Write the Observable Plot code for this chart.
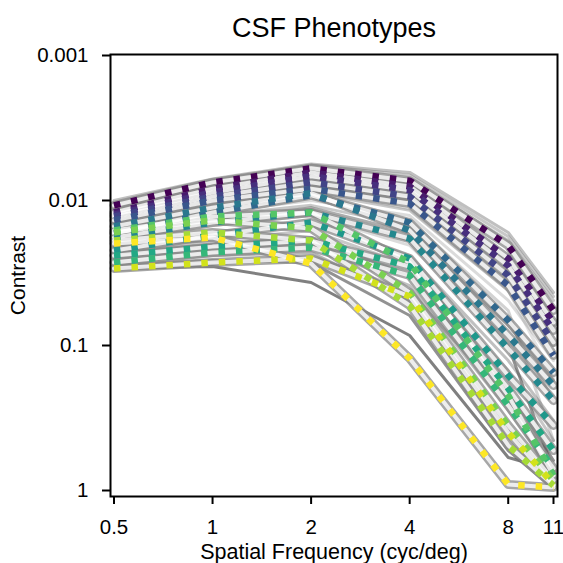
<!DOCTYPE html>
<html>
<head>
<meta charset="utf-8">
<script src="https://cdn.jsdelivr.net/npm/d3@7"></script>
<script src="https://cdn.jsdelivr.net/npm/@observablehq/plot@0.6"></script>
<style>
  html, body { margin: 0; padding: 0; background: white; }
</style>
</head>
<body>
<div id="chart"></div>
<script>
// Spatial frequencies (cyc/deg)
const freqs = [0.5, 1, 2, 4, 8, 11];
const xTicks = [0.5, 1, 2, 4, 8, 11];
const yTicks = [0.001, 0.01, 0.1, 1];

// Phenotype curves (dotted, viridis-coloured), contrast threshold per frequency
const phenotypeNames = ["P1","P2","P3","P4","P5","P6","P7","P8","P9","P10","P11","P12","P13","P14","P15","P16"];
const phenotypeContrast = [
  [0.0108, 0.0075, 0.0060, 0.0073, 0.0204, 0.0574],
  [0.0121, 0.0083, 0.0064, 0.0080, 0.0251, 0.0694],
  [0.0125, 0.0088, 0.0068, 0.0085, 0.0281, 0.0788],
  [0.0129, 0.0094, 0.0075, 0.0094, 0.0329, 0.0953],
  [0.0137, 0.0100, 0.0083, 0.0105, 0.0386, 0.117],
  [0.0169, 0.0121, 0.0092, 0.0142, 0.0672, 0.154],
  [0.0151, 0.0112, 0.0089, 0.0161, 0.0853, 0.189],
  [0.0180, 0.0142, 0.0121, 0.0183, 0.105, 0.240],
  [0.0221, 0.0174, 0.0142, 0.0251, 0.161, 0.356],
  [0.0240, 0.0208, 0.0189, 0.0285, 0.198, 0.530],
  [0.0268, 0.0228, 0.0211, 0.0329, 0.259, 0.705],
  [0.0161, 0.0129, 0.0121, 0.0268, 0.221, 0.788],
  [0.0166, 0.0137, 0.0156, 0.0431, 0.356, 0.853],
  [0.0189, 0.0166, 0.0189, 0.0530, 0.489, 0.924],
  [0.0294, 0.0268, 0.0251, 0.0459, 0.398, 0.909],
  [0.0198, 0.0180, 0.0272, 0.123, 0.909, 0.953]
];

// Individual curves (solid grey)
const subjectContrast = [
  [0.0100, 0.0071, 0.0056, 0.0064, 0.0166, 0.0431],
  [0.0114, 0.0079, 0.0062, 0.0071, 0.0189, 0.0489],
  [0.0127, 0.0092, 0.0075, 0.0092, 0.0268, 0.0788],
  [0.0149, 0.0108, 0.0088, 0.0117, 0.0418, 0.100],
  [0.0156, 0.0121, 0.0100, 0.0127, 0.0489, 0.127],
  [0.0174, 0.0137, 0.0112, 0.0166, 0.0728, 0.174],
  [0.0189, 0.0149, 0.0127, 0.0204, 0.0924, 0.221],
  [0.0204, 0.0166, 0.0142, 0.0240, 0.127, 0.329],
  [0.0221, 0.0189, 0.0161, 0.0281, 0.149, 0.452],
  [0.0232, 0.0201, 0.0183, 0.0329, 0.204, 0.621],
  [0.0251, 0.0221, 0.0204, 0.0386, 0.281, 0.788],
  [0.0268, 0.0240, 0.0228, 0.0489, 0.386, 0.924],
  [0.0281, 0.0259, 0.0268, 0.0621, 0.530, 0.969],
  [0.0294, 0.0285, 0.0368, 0.0853, 0.592, 0.728],
  [0.0304, 0.0276, 0.0243, 0.0418, 0.240, 0.853],
  [0.0183, 0.0142, 0.0117, 0.0189, 0.100, 0.728],
  [0.0142, 0.0100, 0.0079, 0.0100, 0.0329, 0.0672],
  [0.0166, 0.0127, 0.0108, 0.0149, 0.0672, 0.240],
  [0.0133, 0.0100, 0.0085, 0.0114, 0.0418, 0.169],
  [0.0151, 0.0114, 0.0094, 0.0137, 0.0574, 0.452],
  [0.0105, 0.0073, 0.0057, 0.0067, 0.0177, 0.0459]
];
const subjectShade = [0.35, 0.3, 0.6, 0.3, 0.2, 0.45, 0.2, 0.35, 0.3, 0.6, 0.35, 0.4, 0.6, 0.7, 0.35, 0.6, 0.55, 0.3, 0.15, 0.25, 0.3];

const phenRows = phenotypeNames.flatMap((name, i) =>
  freqs.map((f, j) => ({name, freq: f, contrast: phenotypeContrast[i][j]})));

const marks = [];
subjectContrast.forEach((vals, i) => {
  marks.push(Plot.line(freqs.map((f, j) => ({freq: f, contrast: vals[j]})),
    {x: "freq", y: "contrast", stroke: "#4a4a4a", strokeOpacity: subjectShade[i], strokeWidth: 3}));
});
marks.push(Plot.line(phenRows, {x: "freq", y: "contrast", z: "name", stroke: "#8a8a8a", strokeOpacity: 0.75, strokeWidth: 9}));
marks.push(Plot.line(phenRows, {x: "freq", y: "contrast", z: "name", stroke: "white", strokeOpacity: 0.8, strokeWidth: 4}));
marks.push(Plot.line(phenRows, {x: "freq", y: "contrast", z: "name", stroke: "name", strokeWidth: 6.5, strokeDasharray: "6.5,11", strokeLinecap: "butt"}));

marks.push(Plot.frame({stroke: "black", strokeWidth: 2}));
// x axis: tick lines from the axis, labels from a text mark (log axis would hide 0.5, 4, 8)
marks.push(Plot.axisX(xTicks, {tickFormat: () => "", tickSize: 8, strokeWidth: 2, stroke: "black", label: null}));
marks.push(Plot.text(xTicks, {x: d => d, text: d => String(d), frameAnchor: "bottom", lineAnchor: "top", dy: 23, fontSize: 20.5, fill: "black"}));
marks.push(Plot.axisY(yTicks, {tickFormat: d => String(d), tickSize: 8, tickPadding: 14, fontSize: 20.5, strokeWidth: 2, stroke: "black", label: null}));
marks.push(Plot.text(["CSF Phenotypes"], {frameAnchor: "top", lineAnchor: "middle", textAnchor: "middle", dy: -26, fontSize: 27, fill: "black"}));
marks.push(Plot.text(["Spatial Frequency (cyc/deg)"], {frameAnchor: "bottom", lineAnchor: "middle", textAnchor: "middle", dy: 56, fontSize: 21.5, fill: "black"}));
marks.push(Plot.text(["Contrast"], {frameAnchor: "left", lineAnchor: "middle", textAnchor: "middle", dx: -92, rotate: -90, fontSize: 21, fill: "black"}));

const chart = Plot.plot({
  width: 563,
  height: 563,
  marginLeft: 110,
  marginRight: 6,
  marginTop: 54,
  marginBottom: 67,
  style: {fontFamily: "'Liberation Sans', Arial, sans-serif", background: "white", color: "black"},
  x: {type: "log", domain: [0.5, 11], range: [113.5, 553]},
  y: {type: "log", domain: [0.001, 1], range: [55, 490]},
  color: {type: "ordinal", domain: phenotypeNames, scheme: "viridis"},
  marks
});
document.getElementById("chart").appendChild(chart);
</script>
</body>
</html>
